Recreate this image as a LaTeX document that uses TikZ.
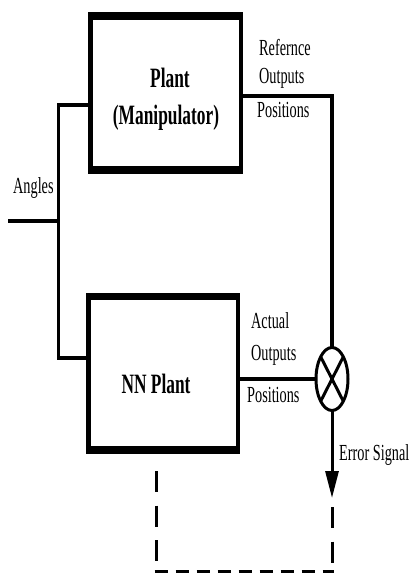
\documentclass[tikz,border=0pt]{standalone}
\usepackage{fontspec}
\newfontfamily\tnr[FakeStretch=0.62]{Liberation Serif}
\usetikzlibrary{shapes.geometric,arrows.meta}
\begin{document}
\begin{tikzpicture}[x=1pt,y=-1pt,
  outerbox/.style={fill=black,draw=none,inner sep=0pt,outer sep=0pt},
  innerbox/.style={fill=white,draw=none,inner sep=0pt,outer sep=0pt},
  boxtext/.style={anchor=base,inner sep=0pt,font=\tnr\bfseries\fontsize{28}{30}\selectfont},
  lbl/.style={anchor=base west,inner sep=0pt,font=\tnr\fontsize{23}{25}\selectfont},
  conn/.style={line width=3.4pt,line join=miter,line cap=butt},
  dashv/.style={line width=3pt,dash pattern=on 21pt off 13.5pt},
  dashh/.style={line width=4pt,dash pattern=on 13pt off 8pt}]
\useasboundingbox (0,0) rectangle (409,573);
% boxes
\node[outerbox,minimum width=154.5pt,minimum height=162pt] (plantbox) at (165.5,93) {};
\node[innerbox,minimum width=145.5pt,minimum height=146pt] (plantin) at (166,93) {};
\node[boxtext] (plantA) at (170,87) {Plant};
\node[boxtext] (plantB) at (166,124) {(Manipulator)};
\node[outerbox,minimum width=154pt,minimum height=161pt] (nnbox) at (163,373.5) {};
\node[innerbox,minimum width=145.3pt,minimum height=146pt] (nnin) at (163.3,373) {};
\node[boxtext] (nnA) at (156,393) {NN Plant};
% comparator
\node[ellipse,draw,line width=3pt,inner sep=0pt,outer sep=0pt,minimum width=32pt,minimum height=63pt] (xor) at (332,379) {};
\draw[line width=3pt] (xor.63) -- (xor.243) (xor.117) -- (xor.297);
% coordinates
\coordinate (ltop) at (58.7,105);
\coordinate (lbot) at (58.7,358);
\coordinate (ain) at (8,221);
\coordinate (ajoin) at (58.7,221);
\coordinate (rtop) at (332,96);
\coordinate (errend) at (332,498);
\coordinate (d1) at (156,471);
\coordinate (d2) at (156,571.5);
\coordinate (d3) at (332,507);
\coordinate (d4) at (332,571.5);
% connectors
\draw[conn] (plantbox.west |- ltop) -- (ltop) -- (lbot) -- (nnbox.west |- lbot);
\draw[conn] (ain) -- (ajoin);
\draw[conn] (plantbox.east |- rtop) -- (rtop) -- (xor.north);
\draw[conn] (nnbox.east |- xor.west) -- (xor.west);
\draw[line width=3pt,-{Triangle[length=27pt,width=13pt]}] (xor.south) -- (errend);
% dashed feedback
\draw[dashv] (d1) -- (d2);
\draw[dashv] (d3) -- (d4);
\draw[dashh] ([xshift=-1.5pt]d2) -- ([xshift=1.5pt]d4);
% labels
\node[lbl] (l1) at (259,55) {Refernce};
\node[lbl] (l2) at (259,83) {Outputs};
\node[lbl] (l3) at (257,117) {Positions};
\node[lbl] (l4) at (13,193) {Angles};
\node[lbl] (l5) at (251,328) {Actual};
\node[lbl] (l6) at (251,360) {Outputs};
\node[lbl] (l7) at (247,402) {Positions};
\node[lbl] (l8) at (339,460) {Error Signal};
\end{tikzpicture}
\end{document}
